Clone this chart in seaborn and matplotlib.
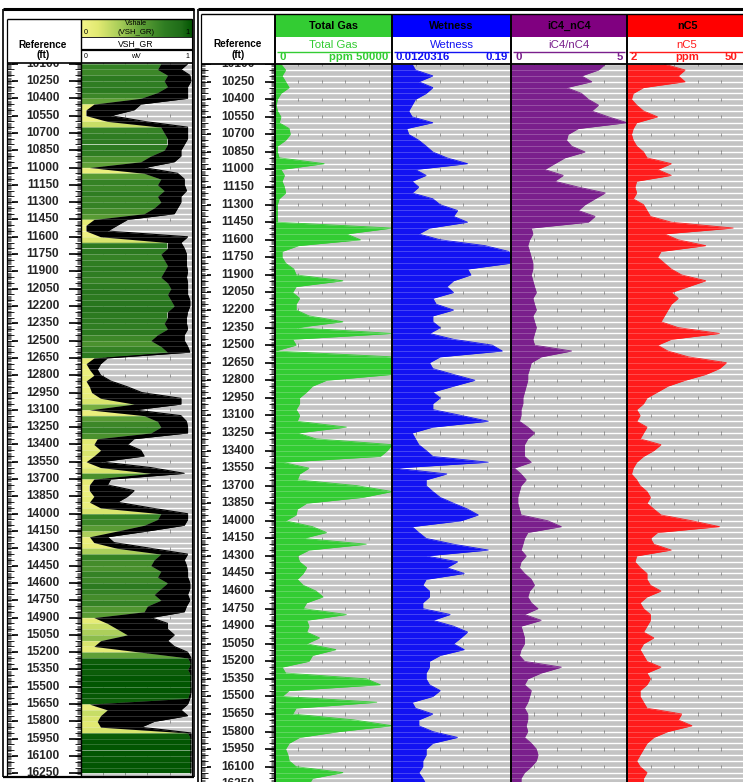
"""
Mud gas log panel: Vshale track plus total gas / wetness / iC4-nC4 / nC5 tracks
"""
import matplotlib
matplotlib.use('Agg')
import matplotlib.pyplot as plt
from matplotlib.patches import Rectangle
from matplotlib.colors import LinearSegmentedColormap
import seaborn as sns
import pandas as pd
import numpy as np

W, H = 743, 782

# Log values read every 50 ft, 10100 - 16250 ft
depth = np.arange(10100, 16251, 50)

total_gas = [2500, 4500, 3000, 4500, 6000, 2500, 1000, 500, 1000, 2500,
             1750, 6000, 6500, 4500, 1000, 1000, 1750, 21000, 2500, 4000,
             3000, 4000, 4500, 1750, 1000, 1000, 1000, 1000, 50000, 30500,
             36500, 10000, 3000, 3000, 4500, 8000, 9000, 29000, 9000, 7500,
             10500, 9000, 9000, 14500, 29000, 9000, 50000, 7500, 9000, 0,
             50000, 50000, 50000, 50000, 22000, 16000, 13500, 10500, 10500, 9000,
             10500, 9500,
             30500, 9500, 17500, 50000, 48000, 45000, 3000, 14500, 10500, 9500,
             35000, 50000, 37500, 13500, 9500, 9000, 4500, 16000, 22000, 12000,
             39000, 14500, 9500, 10500, 13500, 12000, 9500, 12000, 17500, 20500,
             13500, 12000, 30500, 13500, 14500, 13500, 19000, 13500, 26000, 16000,
             14500, 3000, 4500, 39000, 45000, 6000, 3000, 43500, 9000, 7500,
             33500, 50000, 27500, 10500, 6000, 4500, 5500, 6000, 9000, 29000,
             16000, 14500]

wetness = [0.042, 0.047, 0.073, 0.052, 0.073, 0.063, 0.047, 0.042, 0.037, 0.042,
           0.073, 0.034, 0.037, 0.052, 0.063, 0.073, 0.094, 0.125, 0.047, 0.063,
           0.042, 0.052, 0.042, 0.073, 0.084, 0.110, 0.104, 0.125, 0.068, 0.052,
           0.084, 0.151, 0.187, 0.190, 0.190, 0.125, 0.130, 0.104, 0.094, 0.104,
           0.073, 0.078, 0.104, 0.073, 0.073, 0.084, 0.068, 0.104, 0.162, 0.177,
           0.084, 0.068, 0.073, 0.104, 0.136, 0.104, 0.073, 0.084, 0.073, 0.073,
           0.115, 0.156,
           0.073, 0.042, 0.047, 0.052, 0.063, 0.073, 0.156, 0.016, 0.094, 0.063,
           0.063, 0.073, 0.084, 0.104, 0.125, 0.141, 0.115, 0.042, 0.052, 0.063,
           0.104, 0.156, 0.063, 0.110, 0.094, 0.120, 0.063, 0.058, 0.068, 0.068,
           0.058, 0.058, 0.099, 0.073, 0.104, 0.125, 0.115, 0.104, 0.120, 0.084,
           0.068, 0.068, 0.063, 0.063, 0.068, 0.084, 0.073, 0.042, 0.047, 0.073,
           0.052, 0.052, 0.073, 0.110, 0.073, 0.063, 0.063, 0.058, 0.058, 0.052,
           0.058, 0.063]

ic4_nc4 = [4.06, 3.77, 3.04, 3.48, 2.39, 3.04, 3.33, 3.77, 3.48, 4.20,
           5.00, 2.90, 2.46, 2.39, 2.61, 3.19, 2.32, 1.88, 1.45, 2.25,
           1.88, 2.90, 4.06, 3.62, 3.19, 2.90, 3.62, 3.33, 0.87, 0.94,
           0.80, 0.72, 0.80, 0.87, 0.94, 0.94, 0.87, 0.94, 1.01, 1.09,
           0.94, 1.01, 1.09, 0.94, 1.01, 1.09, 1.01, 0.94, 1.01, 2.61,
           1.30, 0.87, 0.80, 0.72, 0.72, 0.65, 0.58, 0.51, 0.51, 0.43,
           0.43, 0.36,
           0.72, 1.01, 0.72, 0.58, 0.58, 0.58, 0.87, 0.14, 0.43, 0.65,
           0.43, 0.36, 0.29, 0.29, 0.36, 0.43, 1.59, 2.17, 0.72, 0.58,
           0.51, 0.43, 0.65, 0.43, 0.36, 0.58, 0.87, 1.01, 0.80, 0.72,
           0.87, 1.16, 0.58, 1.30, 0.43, 0.51, 0.58, 0.58, 0.43, 0.36,
           0.58, 2.17, 1.30, 0.72, 0.58, 0.87, 0.80, 0.72, 0.58, 0.72,
           0.72, 0.65, 0.72, 0.58, 0.87, 1.09, 1.16, 1.09, 0.87, 0.58,
           0.43, 0.43]

nc5 = [17.2, 25.6, 22.8, 25.6, 8.7, 4.5, 3.8, 5.9, 8.7, 14.4,
       5.9, 4.5, 3.8, 4.5, 5.9, 8.7, 10.1, 20.0, 14.4, 20.0,
       5.9, 5.2, 5.9, 4.5, 8.7, 10.1, 11.5, 20.0, 45.2, 17.2,
       22.8, 34.0, 15.8, 14.4, 17.2, 20.0, 24.2, 34.0, 27.0, 20.0,
       22.8, 20.0, 18.6, 17.2, 15.8, 22.8, 39.6, 20.0, 14.4, 18.6,
       27.0, 42.4, 39.6, 34.0, 25.6, 18.6, 14.4, 10.1, 8.7, 5.9,
       7.3, 5.9,
       10.1, 8.7, 7.3, 15.8, 12.9, 8.7, 5.9, 4.5, 3.8, 5.9,
       7.3, 10.1, 11.5, 10.1, 12.9, 15.8, 28.4, 39.6, 14.4, 11.5,
       12.9, 20.0, 5.9, 5.2, 7.3, 10.1, 10.1, 11.5, 15.8, 10.1,
       7.3, 8.7, 11.5, 11.5, 10.1, 8.7, 12.9, 8.7, 7.3, 8.7,
       10.1, 15.8, 10.1, 11.5, 10.1, 7.3, 7.3, 8.7, 10.1, 24.2,
       22.8, 28.4, 18.6, 12.9, 10.1, 8.7, 7.3, 5.9, 7.3, 10.1,
       8.7, 8.7]

# VSH_GR envelope over each 50 ft: lower edge of the curve and upper edge
vsh_min = [0.72, 0.69, 0.78, 0.75, 0.78, 0.69, 0.54, 0.12, 0.05, 0.05,
           0.24, 0.72, 0.75, 0.78, 0.78, 0.75, 0.63, 0.54, 0.08, 0.57,
           0.72, 0.69, 0.75, 0.69, 0.72, 0.66, 0.57, 0.12, 0.05, 0.05,
           0.18, 0.78, 0.78, 0.72, 0.75, 0.78, 0.75, 0.72, 0.78, 0.81,
           0.78, 0.81, 0.84, 0.78, 0.78, 0.75, 0.78, 0.69, 0.63, 0.72,
           0.78, 0.12, 0.05, 0.08, 0.12, 0.05, 0.08, 0.10, 0.18, 0.48,
           0.08, 0.57, 0.69, 0.72, 0.63, 0.15, 0.12, 0.18, 0.12, 0.05,
           0.18, 0.63, 0.12, 0.08, 0.08, 0.12, 0.08, 0.18, 0.72, 0.69,
           0.57, 0.33, 0.08, 0.12, 0.33, 0.72, 0.66, 0.63, 0.72, 0.69,
           0.78, 0.72, 0.66, 0.72, 0.60, 0.57, 0.12, 0.24, 0.33, 0.42,
           0.18, 0.12, 0.54, 0.96, 0.99, 0.96, 0.99, 0.99, 0.99, 0.98,
           0.96, 0.08, 0.24, 0.18, 0.15, 0.18, 0.96, 0.99, 0.99, 0.99,
           0.98, 0.99, 0.99, 0.99]

vsh_max = [0.96, 0.90, 0.98, 0.99, 0.96, 0.96, 0.96, 0.54, 0.48, 0.27,
           0.57, 0.96, 0.96, 0.96, 0.93, 0.90, 0.90, 0.84, 0.57, 0.87,
           0.93, 0.93, 0.95, 0.90, 0.90, 0.87, 0.84, 0.42, 0.33, 0.24,
           0.96, 0.90, 0.93, 0.95, 0.95, 0.95, 0.96, 0.95, 0.96, 0.96,
           0.96, 0.98, 0.98, 0.96, 0.95, 0.95, 0.96, 0.93, 0.93, 0.96,
           0.98, 0.24, 0.18, 0.15, 0.18, 0.27, 0.42, 0.55, 0.90, 0.90,
           0.48, 0.90, 0.95, 0.96, 0.96, 0.48, 0.42, 0.54, 0.57, 0.18,
           0.63, 0.93, 0.27, 0.24, 0.48, 0.42, 0.33, 0.63, 0.96, 0.96,
           0.93, 0.60, 0.24, 0.30, 0.63, 0.96, 0.93, 0.95, 0.96, 0.96,
           0.98, 0.98, 0.96, 0.98, 0.95, 0.93, 0.63, 0.78, 0.78, 0.84,
           0.78, 0.84, 0.96, 0.99, 0.99, 0.99, 0.99, 0.99, 0.99, 0.99,
           0.98, 0.96, 0.90, 0.96, 0.66, 0.54, 0.99, 0.99, 0.99, 0.99,
           0.99, 0.99, 0.99, 0.99]

depth_labels = np.arange(10100, 16251, 150)

GRAY = '#c3c3c3'
GAS_C = '#33cc33'
WET_C = '#1212f2'
IC4_C = '#7a1f8c'
NC5_C = '#ff1c1c'
HDR = {'gas': '#33cc33', 'wet': '#0000ff', 'ic4': '#800080', 'nc5': '#ff0000'}

vsh_cmap = LinearSegmentedColormap.from_list(
    'vsh', [(0.0, '#f4f48a'), (0.15, '#e2ea72'), (0.35, '#a6cc58'), (0.55, '#5c9e36'),
            (0.75, '#2f7d22'), (0.9, '#1f6c18'), (1.0, '#005400')])

sns.set_style('white')
plt.rcParams['font.family'] = ['Liberation Sans', 'DejaVu Sans']

logs = pd.DataFrame({'Depth': depth, 'TotalGas': total_gas, 'Wetness': wetness,
                     'iC4_nC4': ic4_nc4, 'nC5': nc5,
                     'VshMin': vsh_min, 'VshMax': vsh_max})

fig = plt.figure(figsize=(W / 100, H / 100), dpi=100)
fig.patch.set_facecolor('white')


def px_axes(x0, y0, x1, y1):
    """Axes placed by pixel box (top-left origin)"""
    return fig.add_axes([x0 / W, 1 - y1 / H, (x1 - x0) / W, (y1 - y0) / H])


def clean(ax, lo, hi, top, bottom, face=GRAY):
    ax.set_xlim(lo, hi)
    ax.set_ylim(bottom, top)
    ax.set_facecolor(face)
    ax.set_xticks([])
    ax.set_yticks([])
    ax.set_xlabel('')
    ax.set_ylabel('')
    for s in ax.spines.values():
        s.set_visible(False)


def stripes_and_ticks(ax, lo, hi):
    stripes = np.arange(10100, 16300, 50)
    ax.hlines(stripes, lo, hi, color='white', lw=1.0, zorder=1)
    grid_x = lo + (hi - lo) * np.array([0.2, 0.4, 0.6, 0.8])
    for d in depth_labels:
        ax.vlines(grid_x, d - 14, d + 14, color='#8c8c8c', lw=0.7, zorder=1.5)
    return stripes


def draw_track(ax, col, lo, hi, color, top, bottom):
    stripes = stripes_and_ticks(ax, lo, hi)
    ax.fill_betweenx(logs['Depth'], lo, logs[col], color=color, lw=0, zorder=2)
    sns.lineplot(data=logs, x=col, y='Depth', orient='y', estimator=None, ax=ax,
                 color=color, lw=0.6, zorder=3)
    ax.hlines(stripes, lo, hi, color='white', lw=0.5, alpha=0.3, zorder=4)
    clean(ax, lo, hi, top, bottom)


def draw_vshale(ax, top, bottom):
    stripes = stripes_and_ticks(ax, 0, 1)
    d = logs['Depth'].values
    vmin = logs['VshMin'].values
    for i in range(len(d) - 1):
        c = vsh_cmap(vmin[i])
        ax.fill_betweenx(d[i:i + 2], 0, vmin[i:i + 2], color=c, ec=c, lw=0.3, zorder=2)
    ax.fill_betweenx(d, logs['VshMin'], logs['VshMax'], color='black', lw=0, zorder=2.5)
    sns.lineplot(data=logs, x='VshMax', y='Depth', orient='y', estimator=None, ax=ax,
                 color='black', lw=0.8, zorder=3)
    ax.hlines(stripes, 0, 1, color='white', lw=0.5, alpha=0.25, zorder=4)
    clean(ax, 0, 1, top, bottom)


def draw_depth(ax, top, bottom, label_x, left_dash, right_dash):
    minor = np.arange(10000, 16400, 10)
    fifty = np.arange(10000, 16400, 50)
    ax.hlines(minor, 0, 0.06, color='black', lw=0.4)
    ax.hlines(minor, 0.95, 1, color='black', lw=0.4)
    ax.hlines(fifty, 0, 0.10, color='black', lw=0.6)
    ax.hlines(fifty, 0.92, 1, color='black', lw=0.6)
    ax.hlines(depth_labels, left_dash[0], left_dash[1], color='black', lw=1.2)
    ax.hlines(depth_labels, right_dash[0], right_dash[1], color='black', lw=1.2)
    for dl in depth_labels:
        ax.text(label_x, dl, f'{dl}', ha='center', va='center', fontsize=8.6,
                fontweight='bold', clip_on=True)
    clean(ax, 0, 1, top, bottom, face='white')


# ---- left panel (Vshale) ----
L_TOP, L_BOT = 10094, 16273
draw_depth(px_axes(7, 63, 80.5, 776), L_TOP, L_BOT, 0.49, (0.07, 0.15), (0.84, 1.0))
draw_vshale(px_axes(80.5, 63, 192, 776), L_TOP, L_BOT)

# ---- right panel (gas tracks) ----
R_TOP, R_BOT = 10099, 16231
draw_depth(px_axes(201, 64, 275, 782), R_TOP, R_BOT, 0.5, (0.08, 0.14), (0.87, 1.0))
draw_track(px_axes(275, 64, 392, 782), 'TotalGas', 0, 50000, GAS_C, R_TOP, R_BOT)
draw_track(px_axes(392, 64, 511, 782), 'Wetness', 0.0120316, 0.19, WET_C, R_TOP, R_BOT)
draw_track(px_axes(511, 64, 627, 782), 'iC4_nC4', 0, 5, IC4_C, R_TOP, R_BOT)
draw_track(px_axes(627, 64, 745, 782), 'nC5', 2, 50, NC5_C, R_TOP, R_BOT)

# ---- frames and headers drawn in pixel space ----
ov = fig.add_axes([0, 0, 1, 1])
ov.patch.set_alpha(0)


def line(xs, ys, color='black', lw=1.0):
    ov.plot(xs, ys, color=color, lw=lw, solid_capstyle='butt')


def txt(x, y, s, size, color='black', bold=False, ha='center'):
    ov.text(x, y, s, ha=ha, va='center', fontsize=size, color=color,
            fontweight='bold' if bold else 'normal')


# left panel frame
line([3, 193.5], [8.5, 8.5], lw=2.2)
line([3, 3], [8.5, 777], lw=1.2)
line([6.5, 6.5], [18.5, 777], lw=0.9)
line([193.5, 193.5], [8.5, 777], lw=1.2)
line([3, 193.5], [777, 777], lw=1.6)
line([6.5, 192], [18.5, 18.5], lw=1.0)
line([80.5, 80.5], [18.5, 777], lw=1.0)
line([192, 192], [18.5, 777], lw=0.8)
ov.imshow(np.linspace(0, 1, 256)[None, :], extent=(80.5, 192, 37, 19),
          cmap=vsh_cmap, aspect='auto', zorder=0.5)
line([80.5, 192], [37, 37], lw=0.6)
line([80.5, 192], [49.5, 49.5], lw=1.6)
line([6.5, 192], [62.8, 62.8], lw=1.2)
txt(136, 23.5, 'Vshale', 5.2)
txt(86, 32.5, '0', 5.2)
txt(136, 32.5, '(VSH_GR)', 5.6)
txt(187, 32.5, '1', 5.2)
txt(136, 43.5, 'VSH_GR', 6.2)
txt(86, 56.5, '0', 5.0)
txt(136, 56.5, 'wV', 5.0)
txt(187, 56.5, '1', 5.0)
txt(43, 44.5, 'Reference', 7.2, bold=True)
txt(43, 55.5, '(ft)', 7.2, bold=True)

# right panel frame
line([198, 745], [8.5, 8.5], lw=2.2)
line([198, 198], [8.5, 782], lw=1.2)
line([201, 201], [14, 782], lw=0.9)
line([201, 745], [14, 14], lw=1.0)
tracks = [('gas', 275, 392, 'Total Gas', 'Total Gas', GAS_C),
          ('wet', 392, 511, 'Wetness', 'Wetness', WET_C),
          ('ic4', 511, 627, 'iC4_nC4', 'iC4/nC4', IC4_C),
          ('nc5', 627, 745, 'nC5', 'nC5', NC5_C)]
for key, x0, x1, title, name, c in tracks:
    ov.add_patch(Rectangle((x0, 14.5), x1 - x0, 22.5, color=HDR[key], lw=0, zorder=0.5))
    xm = (x0 + x1) / 2 if key != 'nc5' else 687
    txt(xm, 26, title, 7.8, bold=True)
    txt(xm, 44.5, name, 8.2, color=c)
    line([x0 + 2, x1 - 2], [51.5, 51.5], color=c, lw=1.0)
for x in [275, 392, 511, 627]:
    line([x, x], [14, 782], lw=1.4)
line([201, 745], [63.5, 63.5], lw=1.3)
txt(238, 44, 'Reference', 7.2, bold=True)
txt(238, 54.5, '(ft)', 7.2, bold=True)
# scale row
txt(279, 57.5, '0', 8.2, color=GAS_C, bold=True, ha='left')
txt(388, 57.5, 'ppm 50000', 8.2, color=GAS_C, bold=True, ha='right')
txt(395, 57.5, '0.0120316', 8.2, color=WET_C, bold=True, ha='left')
txt(508, 57.5, '0.19', 8.2, color=WET_C, bold=True, ha='right')
txt(515, 57.5, '0', 8.2, color=IC4_C, bold=True, ha='left')
txt(623, 57.5, '5', 8.2, color=IC4_C, bold=True, ha='right')
txt(631, 57.5, '2', 8.2, color=NC5_C, bold=True, ha='left')
txt(687, 57.5, 'ppm', 8.2, color=NC5_C, bold=True)
txt(737, 57.5, '50', 8.2, color=NC5_C, bold=True, ha='right')

ov.set_xlim(0, W)
ov.set_ylim(H, 0)
ov.axis('off')

fig.savefig('out.png', dpi=100)
plt.close(fig)
